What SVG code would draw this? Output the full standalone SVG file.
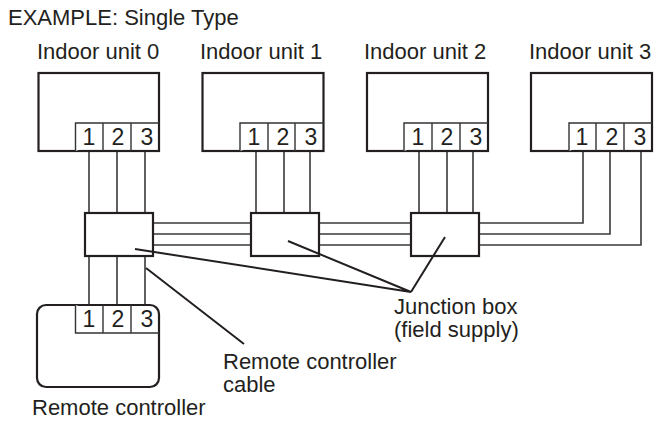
<svg xmlns="http://www.w3.org/2000/svg" width="671" height="428" viewBox="0 0 671 428">
<style>
text{font-family:"Liberation Sans",Arial,sans-serif;font-size:22px;fill:#231f20}
.n{font-size:23px;text-anchor:middle}
.b{fill:#fff;stroke:#231f20;stroke-width:2.2}
.t{fill:#fff;stroke:#333;stroke-width:1.4}
.w{fill:none;stroke:#3a3a3a;stroke-width:1.6}
.l{fill:none;stroke:#231f20;stroke-width:2}
</style>
<rect width="671" height="428" fill="#fff"/>
<text id="title" x="8" y="25">EXAMPLE: Single Type</text>
<g id="connectors">
<path class="w" d="M89 151V213M117 151V213M145 151V213M256 151V213M284 151V213M310 151V213M419 151V213M447 151V213M473 151V213"/>
<path class="w" d="M153 223H251M153 234H251M153 245H251M319 223H411M319 234H411M319 245H411"/>
<path class="w" d="M479 223H583V151M479 234H610V151M479 245H641V151"/>
<path class="w" d="M89 256V305M117 256V305M145 256V305"/>
</g>
<g id="unit0"><rect class="b" x="38.500" y="73" width="120.500" height="78"/><path class="t" d="M75.500 151V123H159M103 123V151M131 123V151"/><text class="n" x="89" y="145">1</text><text class="n" x="118" y="145">2</text><text class="n" x="147" y="145">3</text><text x="37" y="59">Indoor unit 0</text></g>
<g id="unit1"><rect class="b" x="202.500" y="73" width="121" height="78"/><path class="t" d="M240 151V123H323.500M268 123V151M295 123V151"/><text class="n" x="254" y="145">1</text><text class="n" x="283" y="145">2</text><text class="n" x="311" y="145">3</text><text x="200" y="59">Indoor unit 1</text></g>
<g id="unit2"><rect class="b" x="367" y="73" width="121" height="78"/><path class="t" d="M404 151V123H488M432 123V151M460 123V151"/><text class="n" x="418" y="145">1</text><text class="n" x="447" y="145">2</text><text class="n" x="476" y="145">3</text><text x="364" y="59">Indoor unit 2</text></g>
<g id="unit3"><rect class="b" x="531" y="73" width="121" height="78"/><path class="t" d="M569 151V123H652M596 123V151M624 123V151"/><text class="n" x="582" y="145">1</text><text class="n" x="612" y="145">2</text><text class="n" x="640" y="145">3</text><text x="529" y="59">Indoor unit 3</text></g>
<g id="box0"><rect class="b" x="85" y="213" width="68" height="43"/></g>
<g id="box1"><rect class="b" x="251" y="213" width="68" height="43"/></g>
<g id="box2"><rect class="b" x="411" y="213" width="68" height="43"/></g>
<g id="remote"><rect class="b" x="37" y="305" width="122" height="82" rx="9"/><path class="t" d="M75.500 305V333H159M103 305V333M131 305V333"/><text class="n" x="89" y="327">1</text><text class="n" x="118" y="327">2</text><text class="n" x="147" y="327">3</text><text x="32" y="415">Remote controller</text></g>
<g id="leaders">
<path class="l" d="M135 249L411 292M288 241L411 292M445 237L411 292M146 268L244 344"/>
</g>
<text id="junction" x="394" y="314">Junction box</text>
<text id="junction2" x="394" y="337">(field supply)</text>
<text id="cable1" x="223" y="369">Remote controller</text>
<text id="cable2" x="223" y="392">cable</text>
</svg>
